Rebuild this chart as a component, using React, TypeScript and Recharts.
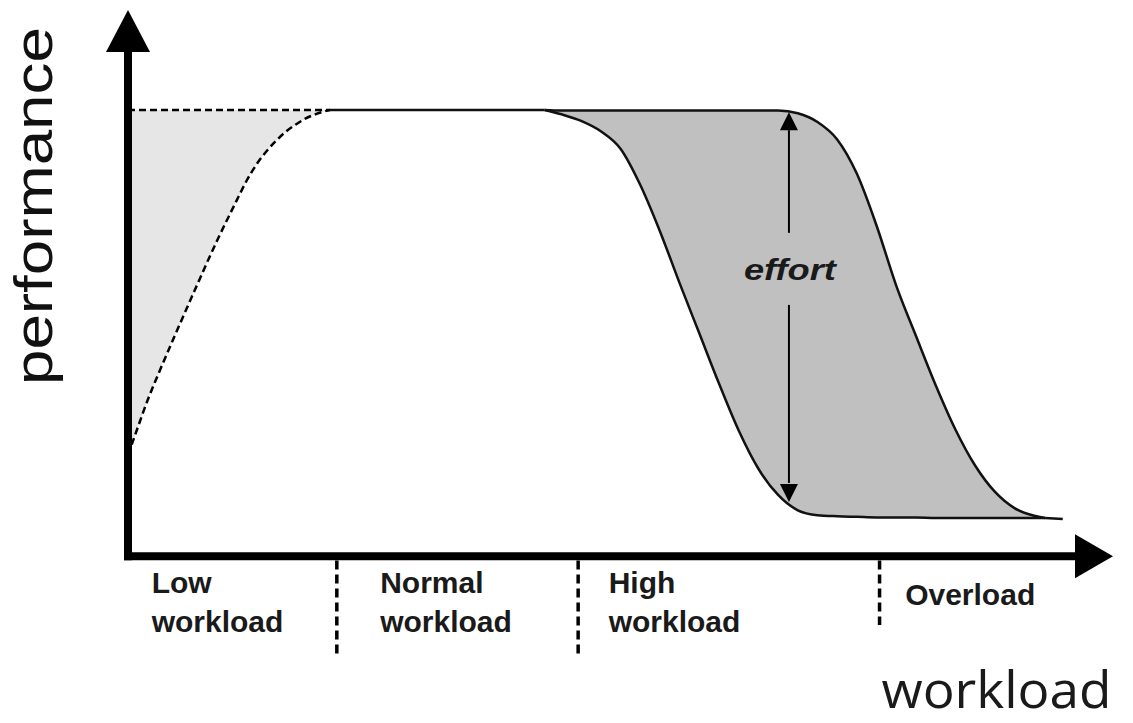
import React from 'react';
import { ComposedChart, Area, Line, XAxis, YAxis, ReferenceLine, ReferenceDot } from 'recharts';

// performance level of the flat top
const plateau = 81.7;

// low workload: dashed rise up to the plateau
const lowX = [0, 1, 2, 3, 5, 7, 9, 11, 12, 13, 14, 15, 16, 17, 18, 19, 20.5];
const lowCurve = [18.5, 23.6, 28.6, 33.0, 41.4, 49.6, 57.6, 65.0, 68.6, 71.6, 74.0, 76.0, 77.7, 79.0, 80.1, 80.9, 81.7];

// normal workload: flat stretch
const normalX = [20.5, 42.3];

// high workload / overload: the effort band between two curves
const effortX = [42.3, 44, 46, 48, 50, 52, 54, 56, 58, 60, 62, 64, 66, 68, 70, 72, 74, 76, 78, 80, 82, 84, 86, 88, 90, 92, 93.1];
const effortLower = [81.7, 80.9, 79.7, 77.8, 74.6, 68.0, 59.5, 50.0, 40.8, 31.6, 23.0, 16.0, 11.2, 8.4, 7.5, 7.3, 7.2, 7.1, 7.1, 7.1, 7.0, 7.0, 7.0, 7.0, 7.0, 7.0, 7.0];
const effortUpper = [81.7, 81.6, 81.6, 81.6, 81.6, 81.6, 81.6, 81.6, 81.6, 81.6, 81.6, 81.6, 81.6, 81.1, 79.5, 76.3, 70.0, 60.5, 49.5, 40.3, 31.3, 23.2, 16.6, 11.8, 8.8, 7.4, 7.0];
const tailX = [93.1, 94.9];
const tailY = [7.0, 6.8];

// zone borders under the x axis and the zone names
const zoneBorders = [21.2, 45.7, 76.3];
const zoneBorderEnds = [-18.1, -18.1, -12.6];
const zoneNames = [['Low', 'workload'], ['Normal', 'workload'], ['High', 'workload'], ['Overload']];
const zoneNameX = [2.4, 25.6, 48.8, 78.9];
const zoneNameY = [-6.8, -6.8, -6.8, -9.0];

const lowData = lowX.map((x, i) => ({ x, range: [lowCurve[i], plateau] }));
const normalData = normalX.map((x) => ({ x, y: plateau }));
const effortData = effortX.map((x, i) => ({ x, range: [effortLower[i], effortUpper[i]] }));
const tailData = tailX.map((x, i) => ({ x, y: tailY[i] }));

const upArrow = (p: any) => (
  <polygon points={`${p.cx},${p.cy} ${p.cx - 22},${p.cy + 42} ${p.cx + 22},${p.cy + 42}`} fill="#000" />
);
const rightArrow = (p: any) => (
  <polygon points={`${p.cx},${p.cy} ${p.cx - 38},${p.cy - 22} ${p.cx - 38},${p.cy + 22}`} fill="#000" />
);
const smallUp = (p: any) => (
  <polygon points={`${p.cx},${p.cy} ${p.cx - 9},${p.cy + 18} ${p.cx + 9},${p.cy + 18}`} fill="#000" />
);
const smallDown = (p: any) => (
  <polygon points={`${p.cx},${p.cy} ${p.cx - 9},${p.cy - 18} ${p.cx + 9},${p.cy - 18}`} fill="#000" />
);

const zoneLabel = (lines: string[]) => (p: any) => (
  <text x={p.cx} y={p.cy} fontFamily="'Liberation Sans', Arial, sans-serif" fontWeight="bold" fontSize={30} fill="#1a1a1a">
    {lines.map((l, i) => (
      <tspan key={i} x={p.cx} dy={i === 0 ? 0 : 39}>{l}</tspan>
    ))}
  </text>
);

export default function App() {
  return (
    <div style={{ position: 'absolute', left: 0, top: 0, background: '#fff' }}>
      <ComposedChart width={1133} height={723} margin={{ top: 10, right: 20, bottom: 3, left: 128 }}>
        <XAxis dataKey="x" type="number" domain={[0, 100]} hide allowDataOverflow />
        <YAxis type="number" domain={[-30, 100]} hide allowDataOverflow />

        <Area data={lowData} dataKey="range" type="monotone" stroke="#000" strokeWidth={2.5} strokeDasharray="7 4"
          fill="#e6e6e6" fillOpacity={1} dot={false} activeDot={false} isAnimationActive={false} />
        <Line data={normalData} dataKey="y" type="linear" stroke="#111" strokeWidth={2.5} dot={false} activeDot={false} isAnimationActive={false} />
        <Area data={effortData} dataKey="range" type="monotone" stroke="#111" strokeWidth={2.5}
          fill="#c0c0c0" fillOpacity={1} dot={false} activeDot={false} isAnimationActive={false} />
        <Line data={tailData} dataKey="y" type="linear" stroke="#111" strokeWidth={2.5} dot={false} activeDot={false} isAnimationActive={false} />

        {/* effort double arrow */}
        <ReferenceLine segment={[{ x: 67.1, y: 78.0 }, { x: 67.1, y: 59.2 }]} stroke="#000" strokeWidth={2} />
        <ReferenceLine segment={[{ x: 67.1, y: 46.0 }, { x: 67.1, y: 13.4 }]} stroke="#000" strokeWidth={2} />
        <ReferenceDot x={67.1} y={81.3} r={0} shape={smallUp} />
        <ReferenceDot x={67.1} y={9.9} r={0} shape={smallDown} />
        <ReferenceDot x={67.2} y={50.5} r={0} shape={(p: any) => (
          <text x={p.cx} y={p.cy} textAnchor="middle" fontFamily="'Liberation Sans', Arial, sans-serif" fontWeight="bold"
            fontStyle="italic" fontSize={30} fill="#1a1a1a" textLength={92} lengthAdjust="spacingAndGlyphs">effort</text>
        )} />

        {/* zone borders and names */}
        {zoneBorders.map((b, i) => (
          <ReferenceLine key={`b${i}`} segment={[{ x: b, y: -0.8 }, { x: b, y: zoneBorderEnds[i] }]} stroke="#000"
            strokeWidth={3.5} strokeDasharray="9 5" />
        ))}
        {zoneNames.map((n, i) => (
          <ReferenceDot key={`n${i}`} x={zoneNameX[i]} y={zoneNameY[i]} r={0} shape={zoneLabel(n)} />
        ))}

        {/* axes with arrow heads */}
        <ReferenceLine segment={[{ x: 0, y: 0 }, { x: 0, y: 93 }]} stroke="#000" strokeWidth={8} strokeLinecap="square" />
        <ReferenceLine segment={[{ x: 0, y: 0 }, { x: 96.5, y: 0 }]} stroke="#000" strokeWidth={8} strokeLinecap="square" />
        <ReferenceDot x={0} y={100} r={0} shape={upArrow} />
        <ReferenceDot x={100} y={0} r={0} shape={rightArrow} />

        {/* axis titles */}
        <ReferenceDot x={-7.7} y={64.1} r={0} ifOverflow="visible" shape={(p: any) => (
          <text x={p.cx} y={p.cy} transform={`rotate(-90, ${p.cx}, ${p.cy})`} textAnchor="middle"
            fontFamily="'Liberation Sans', Arial, sans-serif" fontSize={54} fill="#111" textLength={358}
            lengthAdjust="spacingAndGlyphs">performance</text>
        )} />
        <ReferenceDot x={76.5} y={-27.8} r={0} shape={(p: any) => (
          <text x={p.cx} y={p.cy} fontFamily="'Open Sans', sans-serif" fontSize={52} fill="#1a1a1a" textLength={230}
            lengthAdjust="spacingAndGlyphs">workload</text>
        )} />
      </ComposedChart>
    </div>
  );
}
